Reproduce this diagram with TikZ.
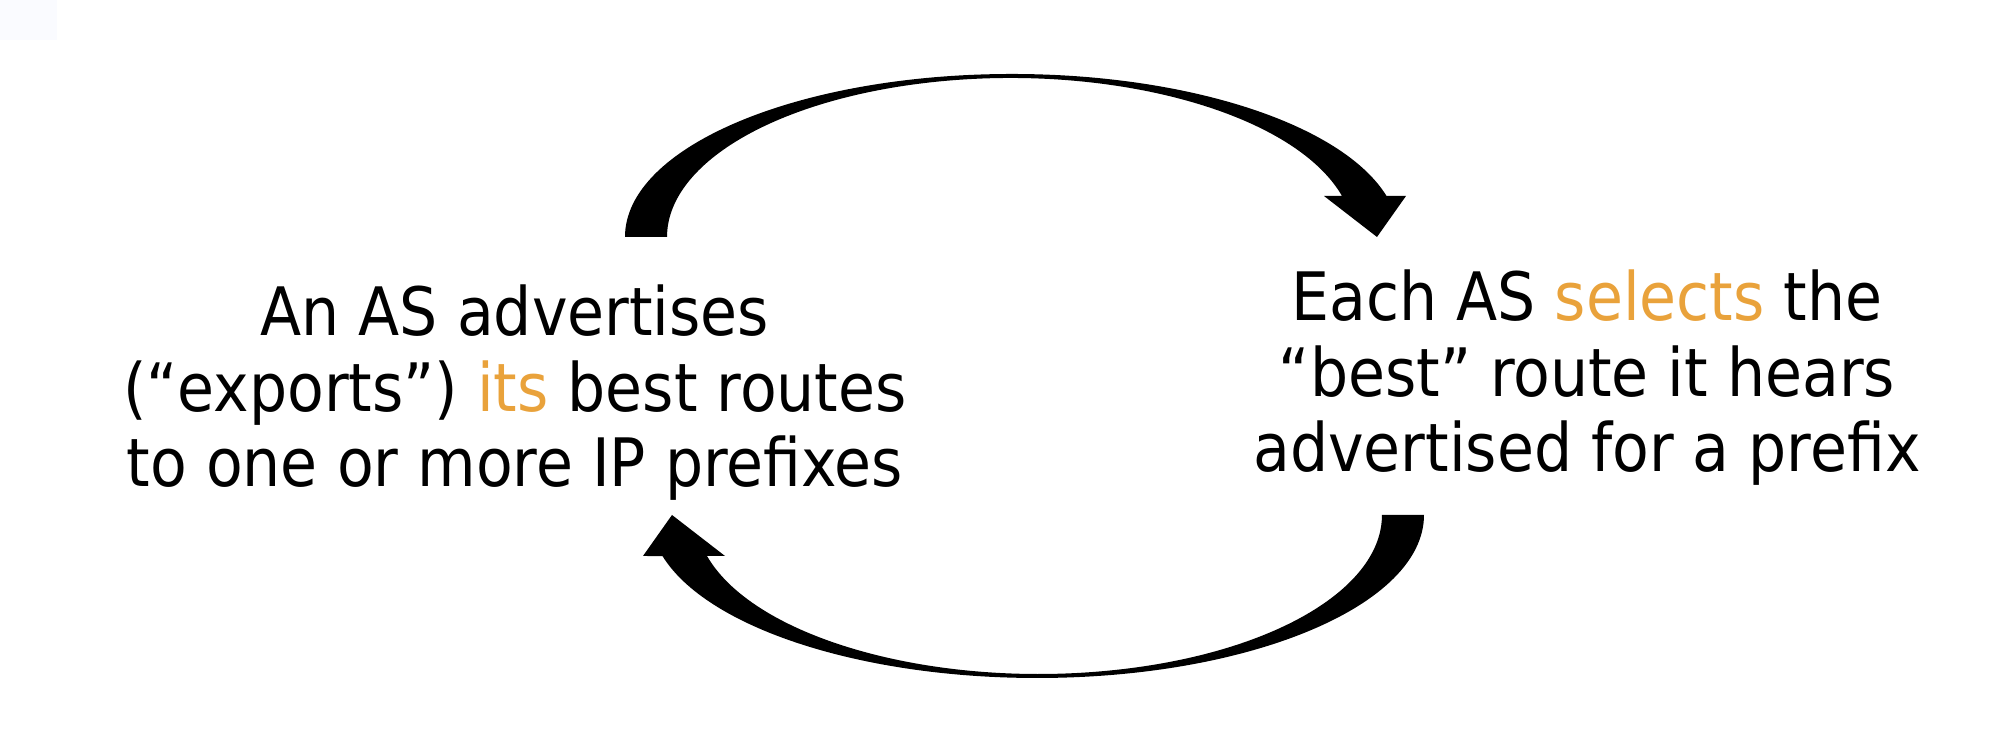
\documentclass[tikz,border=0pt]{standalone}
\usepackage{fontspec}
\setmainfont{DejaVu Sans Condensed}
\usepackage{tikz}
\definecolor{pick}{HTML}{E9A23B}
\definecolor{corner}{HTML}{FAFBFF}
\def\swoosh[#1]{\fill[#1] (6.25, 5.00) arc[start angle=180, end angle=14.6, x radius=3.87, y radius=1.63]
	-- (14.06, 5.41) -- (13.77, 5.00) -- (13.24, 5.41) -- (13.42, 5.41)
	arc[start angle=14.95, end angle=180, x radius=3.433, y radius=1.59] -- cycle;}

\begin{document}
\begin{tikzpicture}
		%%%%% START %%%%%
		
		\useasboundingbox (0, 0) rectangle (19.96, 7.37);
		\fill[corner] (0, 6.97) rectangle (0.57, 7.37);
		
		\node[align=center, inner sep=0, font=\fontsize{19}{21.5}\selectfont] (export) at (5.15, 3.44)
			{An AS advertises\\(“exports”) \textcolor{pick}{its} best routes\\to one or more IP prefixes};
		\node[align=center, inner sep=0, font=\fontsize{19}{21.5}\selectfont] (select) at (15.87, 3.59)
			{Each AS \textcolor{pick}{selects} the\\“best” route it hears\\advertised for a prefix};
		
		\swoosh[black];
		\swoosh[black, rotate around={180:(10.245, 3.61)}];
		
		%%%%% END %%%%%
	\end{tikzpicture}
\end{document}
